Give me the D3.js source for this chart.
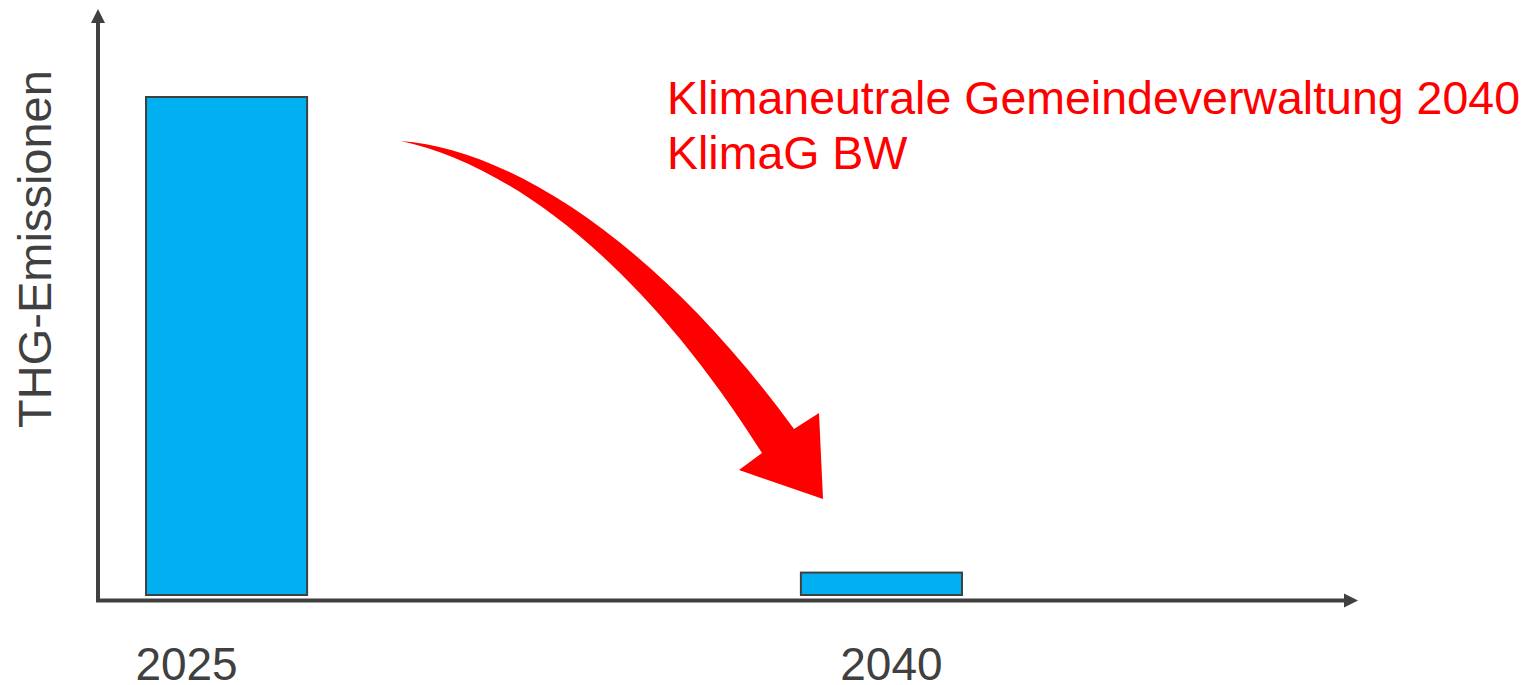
<!DOCTYPE html>
<html>
<head>
<meta charset="utf-8">
<script src="https://cdn.jsdelivr.net/npm/d3@7"></script>
<style>
  body { margin: 0; background: #fff; }
  svg { display: block; font-family: Arial, "Liberation Sans", sans-serif; }
</style>
</head>
<body>
<svg width="1528" height="685"></svg>
<script>
// chart data
var categories = ["2025", "2040"];
var emissions = [100, 4.5];
var labelShift = [-40, 10];
var titleLines = ["Klimaneutrale Gemeindeverwaltung 2040", "KlimaG BW"];
var yTitle = "THG-Emissionen";

var grey = "#404040";

var svg = d3.select("svg");

var x = d3.scaleBand()
  .domain(categories)
  .range([98, 1010])
  .paddingInner(0.754)
  .paddingOuter(0.0733);

var y = d3.scaleLinear()
  .domain([0, 100])
  .range([595, 97]);

// bars
svg.selectAll("rect.bar")
  .data(emissions)
  .enter()
  .append("rect")
    .attr("class", "bar")
    .attr("x", function(d, i){ return x(categories[i]) })
    .attr("y", function(d){ return y(d) })
    .attr("width", x.bandwidth())
    .attr("height", function(d){ return y(0) - y(d) })
    .style("fill", "#00B0F0")
    .style("stroke", grey)
    .style("stroke-width", 2);

// axes with arrow heads
svg.append("line")
  .attr("x1", 98).attr("y1", y(0) + 7)
  .attr("x2", 98).attr("y2", 22)
  .style("stroke", grey).style("stroke-width", 4);
svg.append("path")
  .attr("d", "M98,9L105,23L91,23Z")
  .style("fill", grey);

svg.append("line")
  .attr("x1", 96).attr("y1", 600.5)
  .attr("x2", 1345).attr("y2", 600.5)
  .style("stroke", grey).style("stroke-width", 4);
svg.append("path")
  .attr("d", "M1358,600.5L1344,593.5L1344,607.5Z")
  .style("fill", grey);

// category labels
svg.selectAll("text.cat")
  .data(categories)
  .enter()
  .append("text")
    .attr("class", "cat")
    .attr("x", function(d, i){ return x(d) + x.bandwidth() / 2 + labelShift[i] })
    .attr("y", 680)
    .attr("text-anchor", "middle")
    .style("font-size", "46px")
    .style("fill", grey)
    .text(function(d){ return d });

// y axis title
svg.append("text")
  .attr("transform", "translate(51,249) rotate(-90)")
  .attr("text-anchor", "middle")
  .style("font-size", "47px")
  .style("fill", grey)
  .text(yTitle);

// red annotation
svg.selectAll("text.note")
  .data(titleLines)
  .enter()
  .append("text")
    .attr("class", "note")
    .attr("x", 667)
    .attr("y", function(d, i){ return 114 + i * 55 })
    .style("font-size", "46.5px")
    .style("fill", "#FF0000")
    .text(function(d){ return d });

// curved arrow (decoration), outer edge, head, inner edge back to the tail
var arrowPath = "M401,141C505,148 655,238 794,429" +
  "L819,413L823,499L739,470L762,453" +
  "C640,260 510,165 401,141Z";
svg.append("path")
  .attr("d", arrowPath)
  .style("fill", "#FF0000");
</script>
</body>
</html>
